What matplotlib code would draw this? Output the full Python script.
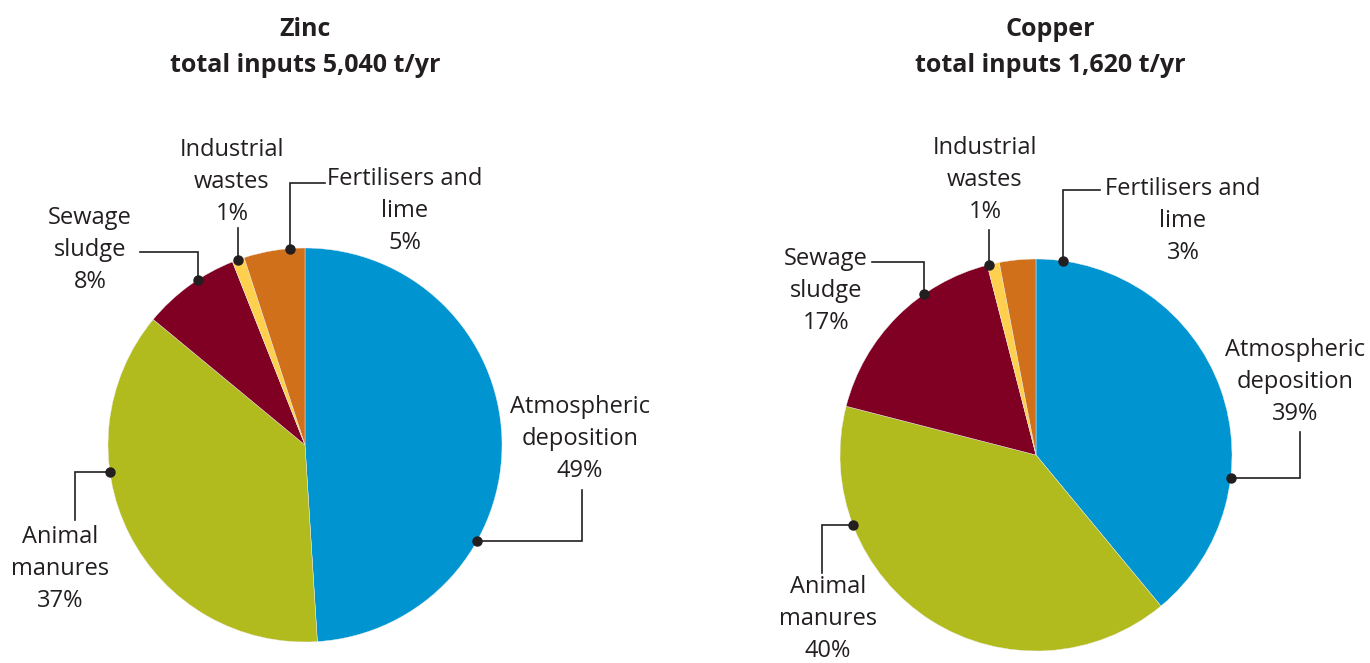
import numpy as np
import matplotlib
matplotlib.use("Agg")
import matplotlib.pyplot as plt

plt.rcParams['font.family'] = ['Open Sans', 'DejaVu Sans']

# data
sources = ["Atmospheric\ndeposition", "Animal\nmanures", "Sewage\nsludge",
           "Industrial\nwastes", "Fertilisers and\nlime"]
zinc_pct = [49, 37, 8, 1, 5]
copper_pct = [39, 40, 17, 1, 3]
zinc_total = "5,040"
copper_total = "1,620"
colors = ["#0094D0", "#B2BB1E", "#800024", "#FED04E", "#D1701B"]

TXT = "#231F20"
W, H = 1370, 663

fig = plt.figure(figsize=(W / 100, H / 100), dpi=100)
ax = fig.add_axes([0, 0, 1, 1])
ax.set_xlim(0, W)
ax.set_ylim(0, H)
ax.set_aspect('equal')
ax.axis('off')


def py(y):
    # pixel row (top-down) -> data y
    return H - y


# layout: (dot angle, direction, first, second, label x, label y)
zinc_layout = [
    (-29, 'h', 582, 490, 580, 439),
    (188, 'h', 75, 520, 60, 569),
    (123, 'v', 252, 140, 90, 250),
    (110, 'v', 228, None, 232, 182),
    (94.4, 'v', 183, 325, 405, 211),
]
copper_layout = [
    (-6.7, 'h', 1300, 432, 1295, 382),
    (201, 'h', 822, 573, 828, 619),
    (124.7, 'v', 262, 872, 826, 291),
    (104, 'v', 230, None, 985, 180),
    (82, 'v', 190, 1100, 1183, 221),
]


def draw(pct, total, name, cx, cy, r, layout, tx):
    ax.pie(pct, colors=colors, startangle=90, counterclock=False,
           center=(cx, py(cy)), radius=r,
           wedgeprops=dict(linewidth=0.3, edgecolor='#f0f0f0'))
    ax.text(tx, py(30), name, ha='center', va='center', fontsize=18,
            fontweight='bold', color=TXT)
    ax.text(tx, py(66), "total inputs %s t/yr" % total, ha='center',
            va='center', fontsize=18, fontweight='bold', color=TXT)
    for lab, p, (ang, d, a, b, lx, ly) in zip(sources, pct, layout):
        t = np.deg2rad(ang)
        x0 = cx + r * np.cos(t)
        y0 = cy - r * np.sin(t)
        if d == 'v':
            xs, ys = [x0, x0], [y0, a]
            if b is not None:
                xs.append(b)
                ys.append(a)
        else:
            xs, ys = [x0, a], [y0, y0]
            if b is not None:
                xs.append(a)
                ys.append(b)
        ax.plot(xs, [py(v) for v in ys], color=TXT, lw=1.2,
                solid_joinstyle='miter')
        ax.plot([x0], [py(y0)], 'o', color=TXT, ms=6.5)
        ax.text(lx, py(ly), "%s\n%d%%" % (lab, p), ha='center', va='center',
                fontsize=17, color=TXT, linespacing=1.42)


draw(zinc_pct, zinc_total, "Zinc", 305, 445, 197, zinc_layout, 305)
draw(copper_pct, copper_total, "Copper", 1036, 455, 196, copper_layout, 1050)

ax.set_xlim(0, W)
ax.set_ylim(0, H)

fig.savefig("out.png", dpi=100)
